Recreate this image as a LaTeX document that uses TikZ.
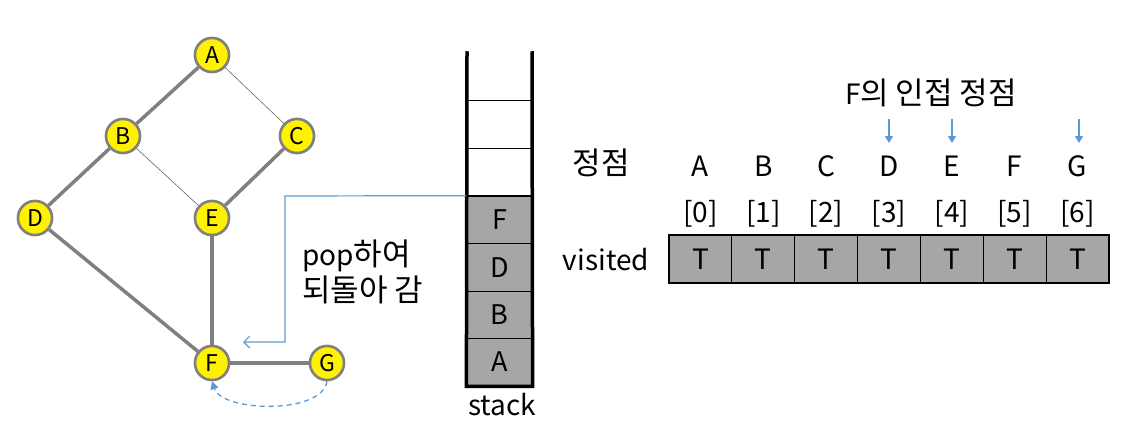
\documentclass[tikz,border=0pt]{standalone}
\usepackage{fontspec}
\setmainfont{Noto Sans CJK KR}
\usetikzlibrary{arrows.meta}
\definecolor{edgegray}{HTML}{808080}
\definecolor{cellgray}{HTML}{A6A6A6}
\definecolor{blueline}{HTML}{5B9BD5}
\newcommand{\kr}[1]{{\fontsize{31}{31}\selectfont #1}}
\tikzset{
  vertex/.style={circle, fill=yellow, draw=edgegray, line width=2.5pt, minimum size=34pt, inner sep=0pt, font=\fontsize{23}{23}\selectfont},
  thickedge/.style={draw=edgegray, line width=3.5pt},
  thinedge/.style={draw=black!60, line width=0.6pt},
  stackcell/.style={rectangle, draw=black, line width=1.2pt, fill=cellgray, minimum width=65pt, minimum height=47.5pt, inner sep=0pt, font=\fontsize{27}{27}\selectfont},
  emptycell/.style={stackcell, fill=white},
  arrcell/.style={rectangle, draw=black, line width=1.2pt, fill=cellgray, minimum width=62.86pt, minimum height=48pt, inner sep=0pt, font=\fontsize{28}{28}\selectfont},
  lbl/.style={inner sep=0pt, font=\fontsize{28}{28}\selectfont},
  bluearrow/.style={draw=blueline, line width=1.3pt, -{Triangle[length=7pt,width=8pt]}},
}
\begin{document}
\begin{tikzpicture}[x=1pt,y=-1pt]
\useasboundingbox (0,0) rectangle (1143,436);
% graph
\node[vertex] (A) at (212,55) {A};
\node[vertex] (B) at (123,136) {B};
\node[vertex] (C) at (297,136) {C};
\node[vertex] (D) at (35,218) {D};
\node[vertex] (E) at (212,218) {E};
\node[vertex] (F) at (212,363) {F};
\node[vertex] (G) at (327,363) {G};
\path[thickedge] (A) -- (B);
\path[thinedge] (A) -- (C);
\path[thickedge] (B) -- (D);
\path[thinedge] (B) -- (E);
\path[thickedge] (C) -- (E);
\path[thickedge] (D) -- (F);
\path[thickedge] (E) -- (F);
\path[thickedge] (F) -- (G);
% redraw nodes on top
\node[vertex] at (A) {A};
\node[vertex] at (B) {B};
\node[vertex] at (C) {C};
\node[vertex] at (D) {D};
\node[vertex] at (E) {E};
\node[vertex] at (F) {F};
\node[vertex] at (G) {G};
% dashed back arrow
\draw[draw=blueline, line width=1.3pt, dash pattern=on 5pt off 4pt, -{Triangle[length=8pt,width=8pt]}]
  (G.south) .. controls (322,415) and (222,412) .. (F.south);
% stack
\node[emptycell] (s6) at (499.5,124.5) {};
\node[emptycell] (s5) at (499.5,172) {};
\node[stackcell] (sF) at (499.5,220) {F};
\node[stackcell] (sD) at (499.5,267.5) {D};
\node[stackcell] (sB) at (499.5,315) {B};
\node[stackcell] (sA) at (499.5,362) {A};
\coordinate (stl) at (467,53);
\coordinate (str) at (532,53);
\draw[line width=3.5pt, line cap=rect] (stl) -- (sA.south west) -- (sA.south east) -- (str);
\node[lbl] (stacklbl) at (502,405) {stack};
% pop arrow
\coordinate (popend) at (243,342);
\draw[draw=blueline, line width=1.2pt, -{Straight Barb[length=6pt,width=12pt]}]
  (sF.north west) -- (285,196) -- (285,342) -- (popend);
\node[lbl, align=left, anchor=west, font=\fontsize{28}{36}\selectfont] (poptxt) at (302,272) {pop\kr{하여}\\\kr{되돌아 감}};
% array
\node[lbl] (jj) at (601,163) {\kr{정점}};
\node[lbl] (vis) at (606,260) {visited};
\foreach \i/\L in {0/A,1/B,2/C,3/D,4/E,5/F,6/G}{
  \node[arrcell] (v\i) at ({700.4+62.86*\i},259) {T};
  \node[lbl] (idx\i) at ({700.4+62.86*\i},214) {[\i]};
  \node[lbl] (l\L) at ({700.4+62.86*\i},166) {\L};
}
\node[lbl] (adj) at (931,93) {F\kr{의 인접 정점}};
\foreach \L/\x in {D/889,E/952,G/1079}{
  \coordinate (t\L) at (\x,119);
  \coordinate (h\L) at (\x,143);
  \draw[bluearrow] (t\L) -- (h\L);
}
\end{tikzpicture}
\end{document}
